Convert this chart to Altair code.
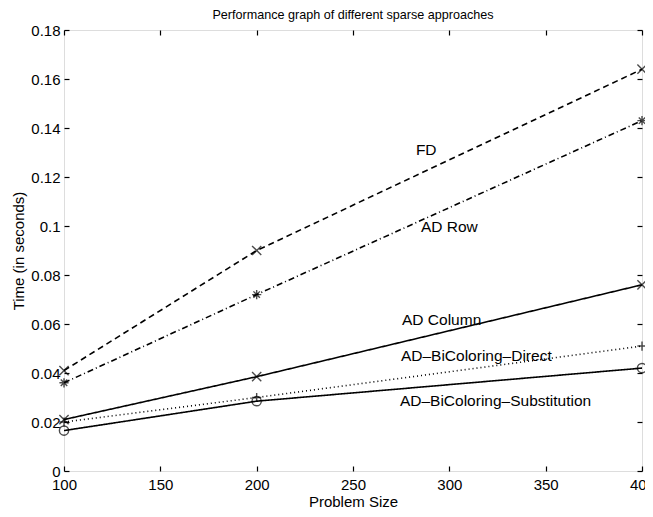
import altair as alt
import pandas as pd

sizes = [100, 200, 400]
series_names = ["FD", "AD Row", "AD Column", "AD–BiColoring–Direct", "AD–BiColoring–Substitution"]
fd = [0.041, 0.090, 0.164]
ad_row = [0.036, 0.072, 0.143]
ad_col = [0.021, 0.0385, 0.076]
bic_direct = [0.020, 0.030, 0.051]
bic_subst = [0.0165, 0.0285, 0.042]

label_x = [288, 300, 296, 314, 324]
label_y = [0.1312, 0.0997, 0.0617, 0.0468, 0.0287]

x_ticks = [100, 150, 200, 250, 300, 350, 400]
y_ticks = [0, 0.02, 0.04, 0.06, 0.08, 0.1, 0.12, 0.14, 0.16, 0.18]

dashes = [[6, 4], [6, 3, 1, 3], [1, 0], [1, 3], [1, 0]]
X_PATH = "M-1,-1L1,1M1,-1L-1,1"
STAR_PATH = "M-1,0L1,0M0,-1L0,1M-0.7,-0.7L0.7,0.7M0.7,-0.7L-0.7,0.7"
PLUS_PATH = "M-1,0L1,0M0,-1L0,1"
shapes = [X_PATH, STAR_PATH, X_PATH, PLUS_PATH, "circle"]

rows = []
for name, vals in zip(series_names, [fd, ad_row, ad_col, bic_direct, bic_subst]):
    for s, v in zip(sizes, vals):
        rows.append({"size": s, "time": v, "series": name})
df = pd.DataFrame(rows)
labels = pd.DataFrame({"series": series_names, "lx": label_x, "ly": label_y})

FONT = "Liberation Sans"
xscale = alt.Scale(domain=[100, 400], nice=False, zero=False)
yscale = alt.Scale(domain=[0, 0.18], nice=False)

x_main = alt.X("size:Q", scale=xscale, title="Problem Size",
               axis=alt.Axis(values=x_ticks, orient="bottom", offset=-5, tickSize=5, domain=False,
                             grid=False, labelPadding=6, labelFontSize=15, labelColor="black",
                             labelFlush=False, labelOverlap=False,
                             tickColor="black", tickWidth=1.2, titleFontSize=15, titleFontWeight="normal",
                             titlePadding=2, labelFont=FONT, titleFont=FONT, titleColor="black"))
y_main = alt.Y("time:Q", scale=yscale, title="Time (in seconds)",
               axis=alt.Axis(values=y_ticks, orient="left", offset=-5, tickSize=5, domain=False,
                             grid=False, format="~g", labelPadding=4, labelFontSize=15,
                             labelFlush=False, labelOverlap=False,
                             labelColor="black", tickColor="black", tickWidth=1.2, titleFontSize=15,
                             titleFontWeight="normal", titlePadding=4, labelFont=FONT,
                             titleFont=FONT, titleColor="black"))

lines = alt.Chart(df).mark_line(color="black", strokeWidth=1.6).encode(
    x=x_main, y=y_main,
    strokeDash=alt.StrokeDash("series:N", scale=alt.Scale(domain=series_names, range=dashes), legend=None),
    detail="series:N",
)

x_top = alt.X("size:Q", scale=xscale, title=None,
              axis=alt.Axis(values=x_ticks, orient="top", offset=-5, tickSize=5, domain=False,
                            grid=False, labels=False, tickColor="black", tickWidth=1.2))
y_right = alt.Y("time:Q", scale=yscale, title=None,
                axis=alt.Axis(values=y_ticks, orient="right", offset=-5, tickSize=5, domain=False,
                              grid=False, labels=False, tickColor="black", tickWidth=1.2))

points = alt.Chart(df).mark_point(color="black", filled=False, strokeWidth=1.4, size=85).encode(
    x=x_top, y=y_right,
    shape=alt.Shape("series:N", scale=alt.Scale(domain=series_names, range=shapes), legend=None),
)

texts = alt.Chart(labels).mark_text(font=FONT, fontSize=15.5, color="black").encode(
    x=alt.X("lx:Q", scale=xscale, axis=None),
    y=alt.Y("ly:Q", scale=yscale, axis=None),
    text="series:N",
)

chart = alt.layer(lines, points, texts).resolve_axis(x="independent", y="independent").properties(
    width=578, height=441,
    autosize=alt.AutoSizeParams(type="none"),
    padding={"left": 56, "top": 22, "right": 3, "bottom": 38},
    title=alt.Title("Performance graph of different sparse approaches", fontSize=12.6,
                    fontWeight="normal", font=FONT, offset=1, color="black"),
).configure_view(stroke="black", strokeWidth=1.5).configure(background="white")

chart.save("out.html", embed_options={"renderer": "svg", "actions": False})
